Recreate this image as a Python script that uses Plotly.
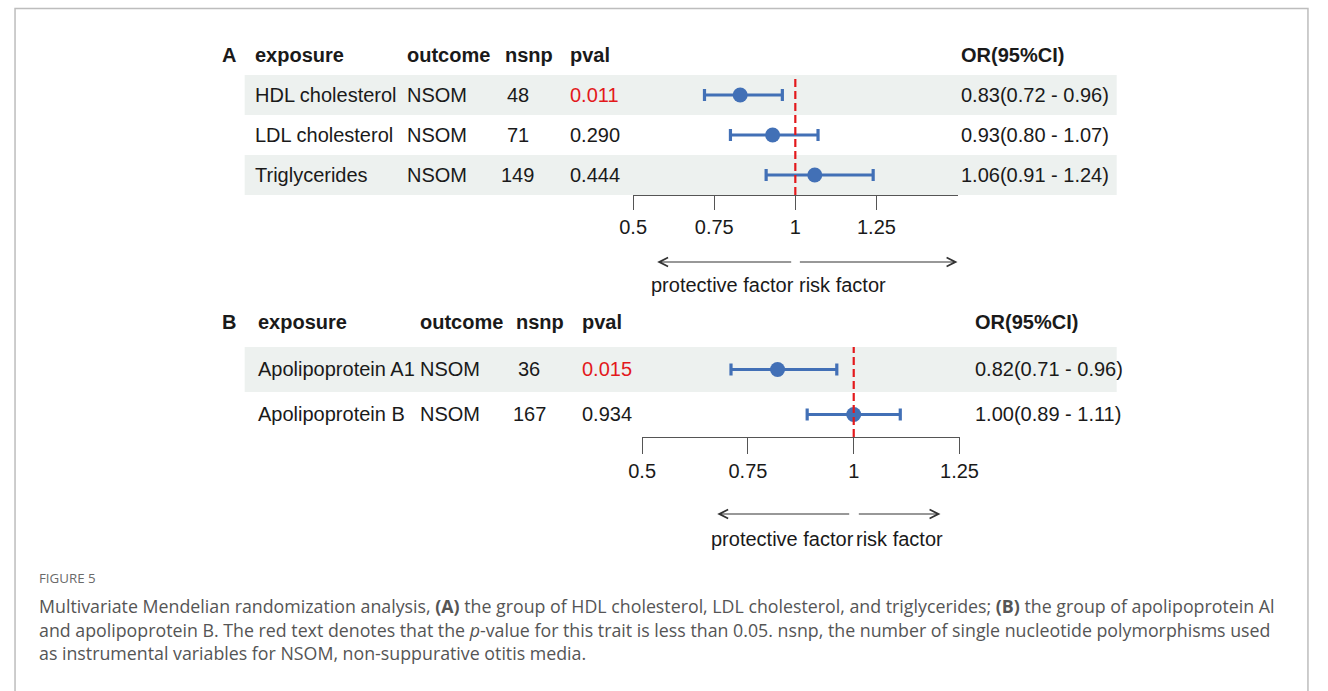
import plotly.graph_objects as go

W, H = 1328, 691

# ---------------- data ----------------
a_exposure = ["HDL cholesterol", "LDL cholesterol", "Triglycerides"]
a_outcome = ["NSOM", "NSOM", "NSOM"]
a_nsnp = [48, 71, 149]
a_pval = ["0.011", "0.290", "0.444"]
a_or = [0.83, 0.93, 1.06]
a_lo = [0.72, 0.80, 0.91]
a_hi = [0.96, 1.07, 1.24]

b_exposure = ["Apolipoprotein A1", "Apolipoprotein B"]
b_outcome = ["NSOM", "NSOM"]
b_nsnp = [36, 167]
b_pval = ["0.015", "0.934"]
b_or = [0.82, 1.00]
b_lo = [0.71, 0.89]
b_hi = [0.96, 1.11]

a_ticks = [0.5, 0.75, 1, 1.25]
a_ticktext = ["0.5", "0.75", "1", "1.25"]
b_ticks = [0.5, 0.75, 1, 1.25]
b_ticktext = ["0.5", "0.75", "1", "1.25"]

headers = ["exposure", "outcome", "nsnp", "pval", "OR(95%CI)"]

caption_title = "FIGURE 5"
caption_lines = [
    "Multivariate Mendelian randomization analysis, <b>(A)</b> the group of HDL cholesterol, LDL cholesterol, and triglycerides; <b>(B)</b> the group of apolipoprotein Al",
    "and apolipoprotein B. The red text denotes that the <i>p</i>-value for this trait is less than 0.05. nsnp, the number of single nucleotide polymorphisms used",
    "as instrumental variables for NSOM, non-suppurative otitis media.",
]

# ---------------- styles ----------------
FONT = "Liberation Sans, Arial, sans-serif"
FS = 20
TXT = "#1a1a1a"
SHADE = "#edf1ef"
BLUE = "#4270b6"
RED = "#e3191c"
AX = "#555555"

# horizontal placement correction observed in the rendered page
SX, OX = 0.974, 14.6


def px(x):
    return min(max(((x - OX) / SX) / W, 0.0008), 0.9992)


def py(y):
    return 1 - y / H


fig = go.Figure()

a_y = list(range(len(a_exposure), 0, -1))
fig.add_trace(go.Scatter(
    x=a_or, y=a_y, mode="markers", xaxis="x", yaxis="y",
    marker=dict(size=15, color=BLUE),
    error_x=dict(type="data", symmetric=False,
                 array=[h - o for h, o in zip(a_hi, a_or)],
                 arrayminus=[o - l for o, l in zip(a_or, a_lo)],
                 color=BLUE, thickness=3.2, width=6),
    cliponaxis=False, showlegend=False, hoverinfo="skip"))

b_y = list(range(len(b_exposure), 0, -1))
fig.add_trace(go.Scatter(
    x=b_or, y=b_y, mode="markers", xaxis="x2", yaxis="y2",
    marker=dict(size=15, color=BLUE),
    error_x=dict(type="data", symmetric=False,
                 array=[h - o for h, o in zip(b_hi, b_or)],
                 arrayminus=[o - l for o, l in zip(b_or, b_lo)],
                 color=BLUE, thickness=3.2, width=6),
    cliponaxis=False, showlegend=False, hoverinfo="skip"))

axis_common = dict(showline=True, linecolor=AX, linewidth=1.3, ticks="outside",
                   tickwidth=1.3, tickcolor=AX, showgrid=False,
                   zeroline=False, tickfont=dict(family=FONT, size=FS, color=TXT),
                   fixedrange=True)

fig.update_layout(
    width=W, height=H, margin=dict(l=0, r=0, t=0, b=0), autosize=False,
    paper_bgcolor="white", plot_bgcolor="rgba(0,0,0,0)",
    xaxis=dict(domain=[px(633), px(957)], range=[0.5, 1.5], anchor="y", ticklen=14,
               tickvals=a_ticks, ticktext=a_ticktext, **axis_common),
    yaxis=dict(domain=[py(195), py(75)], range=[0.5, 3.5], visible=False,
               anchor="x", fixedrange=True),
    xaxis2=dict(domain=[px(642), px(959)], range=[0.5, 1.25], anchor="y2", ticklen=16,
                tickvals=b_ticks, ticktext=b_ticktext, **axis_common),
    yaxis2=dict(domain=[py(437), py(347)], range=[0.5, 2.5], visible=False,
                anchor="x2", fixedrange=True),
)

shapes = []
for i, yv in enumerate(a_y):
    if i % 2 == 0:
        shapes.append(dict(type="rect", xref="paper", yref="y", x0=px(245), x1=px(1116),
                           y0=yv - 0.5, y1=yv + 0.5, fillcolor=SHADE, line_width=0, layer="below"))
for i, yv in enumerate(b_y):
    if i % 2 == 0:
        shapes.append(dict(type="rect", xref="paper", yref="y2", x0=px(245), x1=px(1116),
                           y0=yv - 0.5, y1=yv + 0.5, fillcolor=SHADE, line_width=0, layer="below"))
shapes.append(dict(type="line", xref="x", yref="y", x0=1, x1=1, y0=0.5, y1=3.5,
                   line=dict(color=RED, width=2.2, dash="8px,4px"), layer="above"))
shapes.append(dict(type="line", xref="x2", yref="y2", x0=1, x1=1, y0=0.5, y1=2.5,
                   line=dict(color=RED, width=2.2, dash="8px,4px"), layer="above"))
shapes.append(dict(type="rect", xref="paper", yref="paper", x0=px(4.5), x1=px(1322),
                   y0=py(700), y1=py(8.5), line=dict(color="#bdbdbd", width=1.5),
                   fillcolor="rgba(0,0,0,0)"))
fig.update_layout(shapes=shapes)

ann = []


def txt(x, y, s, yref="paper", bold=False, color=TXT, xanchor="left", size=FS, font=FONT):
    ann.append(dict(x=x, y=y, xref="paper", yref=yref, text=(f"<b>{s}</b>" if bold else s),
                    showarrow=False, xanchor=xanchor, yanchor="middle",
                    font=dict(family=font, size=size, color=color)))


txt(px(220), py(55), "A", bold=True, size=20)
for h, xp in zip(headers, [253, 405, 503, 568, 958]):
    txt(px(xp), py(55), h, bold=True)
for i, yv in enumerate(a_y):
    txt(px(253), yv, a_exposure[i], yref="y")
    txt(px(405), yv, a_outcome[i], yref="y")
    txt(px(518), yv, str(a_nsnp[i]), yref="y", xanchor="center")
    txt(px(568), yv, a_pval[i], yref="y", color=(RED if float(a_pval[i]) < 0.05 else TXT))
    txt(px(958), yv, f"{a_or[i]:.2f}({a_lo[i]:.2f} - {a_hi[i]:.2f})", yref="y")

txt(px(220), py(322), "B", bold=True, size=20)
for h, xp in zip(headers, [256, 418, 514, 580, 972]):
    txt(px(xp), py(322), h, bold=True)
for i, yv in enumerate(b_y):
    txt(px(256), yv, b_exposure[i], yref="y2")
    txt(px(418), yv, b_outcome[i], yref="y2")
    txt(px(529), yv, str(b_nsnp[i]), yref="y2", xanchor="center")
    txt(px(580), yv, b_pval[i], yref="y2", color=(RED if float(b_pval[i]) < 0.05 else TXT))
    txt(px(972), yv, f"{b_or[i]:.2f}({b_lo[i]:.2f} - {b_hi[i]:.2f})", yref="y2")


def arrow(xhead, xtail, y):
    ann.append(dict(x=px(xhead), y=py(y), xref="paper", yref="paper", text="",
                    showarrow=True, ax=(xtail - xhead) / SX, ay=0, arrowhead=5, arrowsize=1.6,
                    arrowwidth=1.1, arrowcolor="#333333"))


arrow(657, 789, 262)
arrow(957, 802, 262)
txt(px(722), py(285), "protective factor", xanchor="center")
txt(px(842), py(285), "risk factor", xanchor="center")
arrow(717, 847, 514)
arrow(940, 859, 514)
txt(px(782), py(539), "protective factor", xanchor="center")
txt(px(899), py(539), "risk factor", xanchor="center")

CAPFONT = "Open Sans, Lato, sans-serif"
txt(px(38), py(578), caption_title, color="#6a6a6a", size=13.3, font=CAPFONT)
for i, line in enumerate(caption_lines):
    txt(px(38), py(606 + 23.5 * i), line, color="#555555", size=17.8, font=CAPFONT)

fig.update_layout(annotations=ann)
fig.write_html("out.html")
